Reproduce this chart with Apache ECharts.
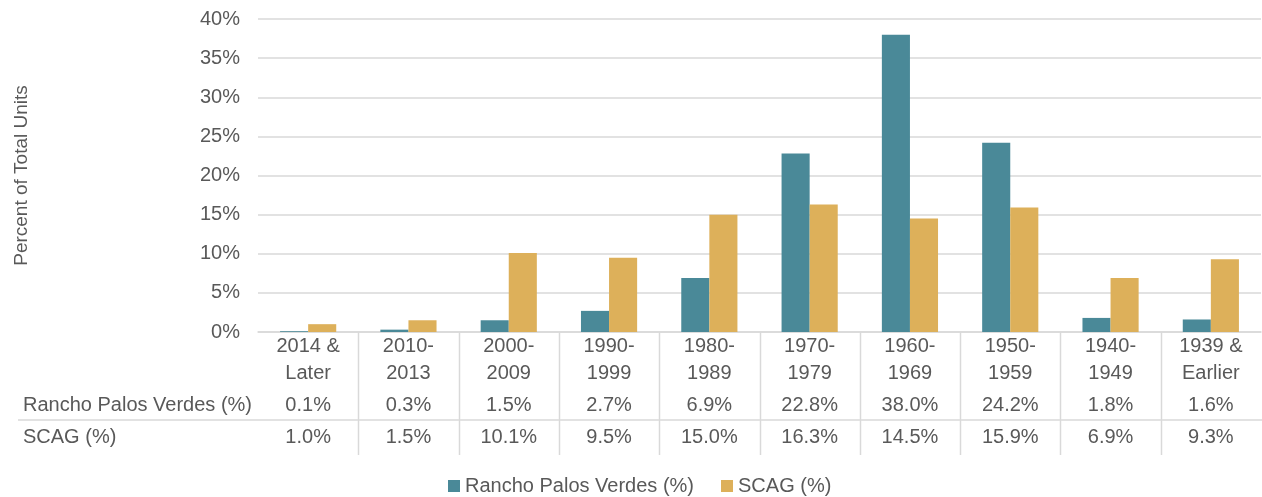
<!DOCTYPE html>
<html><head><meta charset="utf-8">
<script src="https://cdn.jsdelivr.net/npm/echarts@6/dist/echarts.min.js"></script>
<style>html,body{margin:0;padding:0;background:#fff}#c{width:1262px;height:497px}</style>
</head><body><div id="c"></div>
<script>
const categories = ["2014 &\nLater","2010-\n2013","2000-\n2009","1990-\n1999","1980-\n1989","1970-\n1979","1960-\n1969","1950-\n1959","1940-\n1949","1939 &\nEarlier"];
const rpv = [0.1,0.3,1.5,2.7,6.9,22.8,38.0,24.2,1.8,1.6];
const scag = [1.0,1.5,10.1,9.5,15.0,16.3,14.5,15.9,6.9,9.3];
const seriesNames = ["Rancho Palos Verdes (%)","SCAG (%)"];
const yTicks = {min:0,max:40,interval:5};

const FONT = "Liberation Sans";
const FS = 20;
const TXT = "#595959";
const LINE = "#d9d9d9";
const chart = echarts.init(document.getElementById('c'));
const fmt = v => v.toFixed(1) + '%';
const idx = categories.map((c,i)=>i);
chart.setOption({
  animation:false,
  textStyle:{fontFamily:FONT,color:TXT},
  grid:{left:258,right:1,top:19,bottom:165,containLabel:false},
  legend:{top:471,left:443,itemWidth:12,itemHeight:12,itemGap:27,icon:'rect',
    textStyle:{fontFamily:FONT,fontSize:FS,color:TXT},data:seriesNames},
  xAxis:[
    {type:'category',data:categories,
     axisLine:{lineStyle:{color:LINE,width:1.5}},
     axisTick:{show:false},
     axisLabel:{interval:0,fontSize:FS,lineHeight:27,color:TXT,margin:1,fontFamily:FONT}},
    {type:'category',data:idx,position:'bottom',offset:55,
     axisLine:{show:false},axisTick:{show:false},
     axisLabel:{interval:0,fontSize:FS,lineHeight:20,color:TXT,margin:8,fontFamily:FONT,formatter:(v)=>fmt(rpv[+v])}},
    {type:'category',data:idx,position:'bottom',offset:87,
     axisLine:{show:false},axisTick:{show:false},
     axisLabel:{interval:0,fontSize:FS,lineHeight:20,color:TXT,margin:8,fontFamily:FONT,formatter:(v)=>fmt(scag[+v])}}
  ],
  yAxis:{type:'value',min:yTicks.min,max:yTicks.max,interval:yTicks.interval,
    name:'Percent of Total Units',nameLocation:'middle',nameGap:227,
    nameTextStyle:{fontSize:19,color:TXT,fontFamily:FONT},
    axisLine:{show:false},axisTick:{show:false},
    axisLabel:{formatter:'{value}%',fontSize:FS,color:TXT,margin:18,fontFamily:FONT},
    splitLine:{lineStyle:{color:LINE,width:1.5}}},
  series:[
    {name:seriesNames[0],type:'bar',data:rpv,barWidth:'28%',barGap:'0%',itemStyle:{color:'#4a8998'}},
    {name:seriesNames[1],type:'bar',data:scag,barWidth:'28%',barGap:'0%',itemStyle:{color:'#ddb05a'}}
  ]
});
// table grid lines at category boundaries (between categories only)
const p0 = chart.convertToPixel({xAxisIndex:0}, 0);
const p1 = chart.convertToPixel({xAxisIndex:0}, 1);
const band = p1 - p0;
const y0 = chart.convertToPixel({yAxisIndex:0}, 0);
const gfx = [
  {type:'line',shape:{x1:18,y1:420,x2:1262,y2:420},style:{stroke:LINE,lineWidth:1.5}},
  {type:'text',left:23,top:395,style:{text:seriesNames[0],fontSize:FS,fill:TXT,fontFamily:FONT}},
  {type:'text',left:23,top:427,style:{text:seriesNames[1],fontSize:FS,fill:TXT,fontFamily:FONT}}
];
for (let i = 1; i < categories.length; i++) {
  const x = Math.round(chart.convertToPixel({xAxisIndex:0}, i) - band/2) + 0.5;
  gfx.push({type:'line',shape:{x1:x,y1:y0,x2:x,y2:455},style:{stroke:LINE,lineWidth:1.5}});
}
chart.setOption({graphic:gfx});
</script></body></html>
